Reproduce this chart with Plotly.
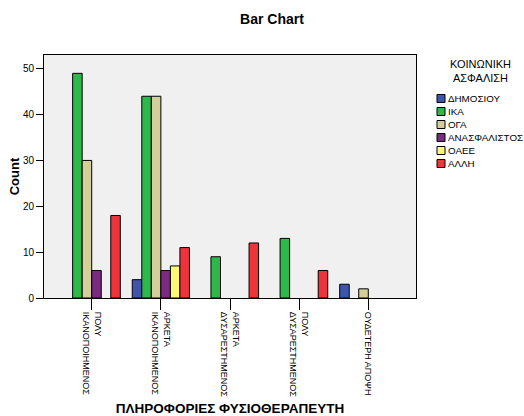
import plotly.graph_objects as go

# Satisfaction categories (x axis) and insurance funds (series)
categories = [
    "ΠΟΛΥ<br>ΙΚΑΝΟΠΟΙΗΜΕΝΟΣ",
    "ΑΡΚΕΤΑ<br>ΙΚΑΝΟΠΟΙΗΜΕΝΟΣ",
    "ΑΡΚΕΤΑ<br>ΔΥΣΑΡΕΣΤΗΜΕΝΟΣ",
    "ΠΟΛΥ<br>ΔΥΣΑΡΕΣΤΗΜΕΝΟΣ",
    "ΟΥΔΕΤΕΡΗ ΑΠΟΨΗ",
]
series_names = ["ΔΗΜΟΣΙΟΥ", "ΙΚΑ", "ΟΓΑ", "ΑΝΑΣΦΑΛΙΣΤΟΣ", "ΟΑΕΕ", "ΑΛΛΗ"]
dimosiou = [0, 4, 0, 0, 3]
ika = [49, 44, 9, 13, 0]
oga = [30, 44, 0, 0, 2]
anasfalistos = [6, 6, 0, 0, 0]
oaee = [0, 7, 0, 0, 0]
alli = [18, 11, 12, 6, 0]
series_values = [dimosiou, ika, oga, anasfalistos, oaee, alli]
colors = ["#3d56ab", "#2fb84a", "#d4cf98", "#7a2a80", "#fbf874", "#ef333a"]

W, H = 524, 416
L, R, T, B = 44, 108, 55, 118
FONT = "Liberation Sans, Arial, sans-serif"

fig = go.Figure()
for name, vals, col in zip(series_names, series_values, colors):
    # empty cells get no bar (and no outline on the baseline)
    fig.add_trace(go.Bar(
        x=categories, y=[v if v else None for v in vals], name=name,
        marker=dict(color=col, line=dict(color="black", width=1)),
        showlegend=False,
    ))


def px_x(p):
    return (p - L) / (W - L - R)


def px_y(p):
    return (H - B - p) / (H - T - B)


# Legend drawn as swatches + labels to keep the compact row spacing
shapes = []
annotations = [dict(
    text="ΚΟΙΝΩΝΙΚΗ<br>ΑΣΦΑΛΙΣΗ", xref="paper", yref="paper",
    x=px_x(480), y=px_y(71), xanchor="center", yanchor="middle",
    showarrow=False, font=dict(family=FONT, size=11, color="black"),
)]
for i, (name, col) in enumerate(zip(series_names, colors)):
    cy = 98.5 + i * 13
    shapes.append(dict(
        type="rect", xref="paper", yref="paper",
        x0=px_x(437), x1=px_x(445), y0=px_y(cy - 4), y1=px_y(cy + 4),
        fillcolor=col, line=dict(color="black", width=1),
    ))
    annotations.append(dict(
        text=name, xref="paper", yref="paper",
        x=px_x(446), y=px_y(cy), xanchor="left", yanchor="middle",
        showarrow=False, font=dict(family=FONT, size=9.8, color="black"),
    ))

fig.update_layout(
    width=W, height=H,
    margin=dict(l=L, r=R, t=T, b=B),
    paper_bgcolor="white", plot_bgcolor="#f0f0f0",
    barmode="group", bargap=0.173, bargroupgap=0,
    font=dict(family=FONT, color="black"),
    title=dict(text="<b>Bar Chart</b>", x=272 / W, xanchor="center",
               y=1 - 19 / H, yanchor="middle", yref="container",
               font=dict(family=FONT, size=14, color="black")),
    shapes=shapes, annotations=annotations,
)
fig.update_xaxes(
    type="category", range=[-0.69, 4.69], automargin=False,
    showline=True, linecolor="black", linewidth=1, mirror=True,
    ticks="outside", ticklen=11, tickcolor="black",
    tickangle=90, tickfont=dict(family=FONT, size=9, color="black"),
    title=dict(text="<b>ΠΛΗΡΟΦΟΡΙΕΣ ΦΥΣΙΟΘΕΡΑΠΕΥΤΗ</b>", standoff=10,
               font=dict(family=FONT, size=13.5, color="black")),
    showgrid=False,
)
fig.update_yaxes(
    range=[0, 53], tickvals=[0, 10, 20, 30, 40, 50], automargin=False,
    showline=True, linecolor="black", linewidth=1, mirror=True,
    ticks="outside", ticklen=7, tickcolor="black",
    tickfont=dict(family=FONT, size=10, color="black"),
    title=dict(text="<b>Count</b>", standoff=0,
               font=dict(family=FONT, size=13, color="black")),
    showgrid=False, zeroline=False,
)

fig.write_html("out.html")
